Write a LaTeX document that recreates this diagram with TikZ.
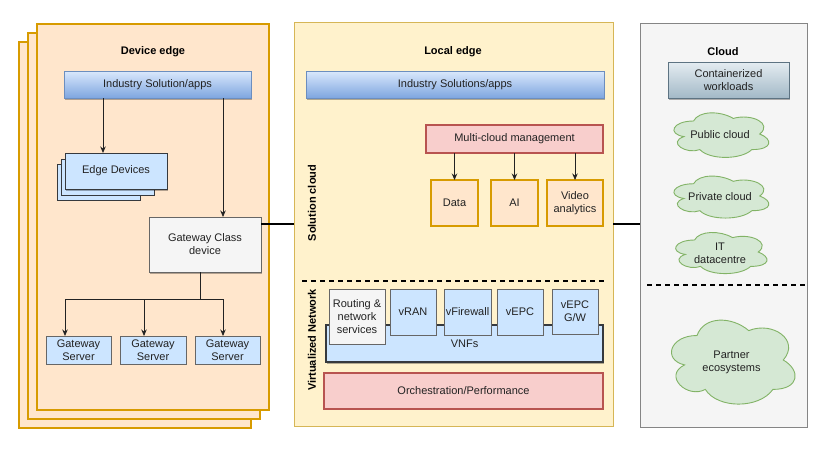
\documentclass[tikz,border=0pt]{standalone}
\usepackage{fontspec}
\setmainfont{Liberation Sans}
\usetikzlibrary{shadows,arrows.meta}

\definecolor{orF}{HTML}{FFE6CC}
\definecolor{orD}{HTML}{D79B00}
\definecolor{yeF}{HTML}{FFF2CC}
\definecolor{yeD}{HTML}{D6B656}
\definecolor{grF}{HTML}{F5F5F5}
\definecolor{grD}{HTML}{666666}
\definecolor{blT}{HTML}{DAE8FC}
\definecolor{blB}{HTML}{7EA6E0}
\definecolor{blD}{HTML}{6C8EBF}
\definecolor{lbF}{HTML}{CCE5FF}
\definecolor{lbD}{HTML}{36393D}
\definecolor{rdF}{HTML}{F8CECC}
\definecolor{rdD}{HTML}{B85450}
\definecolor{gnF}{HTML}{D5E8D4}
\definecolor{gnD}{HTML}{82B366}
\definecolor{ctT}{HTML}{E4ECF1}
\definecolor{ctB}{HTML}{A3B9C7}
\definecolor{ctD}{HTML}{5D7382}
\definecolor{txt}{HTML}{222222}

\tikzset{
  sz/.style 2 args={minimum width=#1pt, minimum height=#2pt},
  box/.style={draw, line width=0.8pt, inner sep=1pt, outer sep=0pt, align=center, text=txt},
  panel/.style={draw, line width=1.4pt, inner sep=0pt, outer sep=0pt},
  dshadow/.style={drop shadow={shadow xshift=1.2pt, shadow yshift=-1.6pt, fill=black, opacity=0.3}},
  bar/.style={box, top color=blT, bottom color=blB, draw=blD, dshadow},
  lbox/.style={box, fill=lbF, draw=lbD},
  rbox/.style={box, fill=rdF, draw=rdD, line width=1.2pt},
  obox/.style={box, fill=orF, draw=orD, line width=1.4pt},
  gbox/.style={box, fill=grF, draw=grD},
  title/.style={font=\fontsize{11}{13}\selectfont\bfseries, text=black, inner sep=0pt},
  arr/.style={-{Stealth[length=6.5pt,width=5.5pt]}, line width=0.8pt, draw=txt},
  plain/.style={line width=0.8pt, draw=txt},
  conn/.style={line width=1.2pt, draw=black},
  sepline/.style={line width=1.8pt, dash pattern=on 5pt off 4pt, draw=black},
  cloudline/.style={draw=gnD, fill=gnF, line width=0.9pt},
  cloudtxt/.style={inner sep=0pt, align=center, text=txt},
}

% draw.io style cloud outline: #1 centre x, #2 centre y, #3 width, #4 height
\newcommand\dioCloud[4]{%
  \begin{scope}[shift={(#1-#3/2,#2-#4/2)}, x=#3pt, y=-#4pt]
    \path[cloudline] (0.25,0.25)
      .. controls (0.05,0.25) and (0,0.5) .. (0.16,0.55)
      .. controls (0,0.66) and (0.18,0.9) .. (0.31,0.8)
      .. controls (0.4,1) and (0.7,1) .. (0.8,0.8)
      .. controls (1,0.8) and (1,0.6) .. (0.875,0.5)
      .. controls (1,0.3) and (0.8,0.1) .. (0.625,0.2)
      .. controls (0.5,0.05) and (0.3,0.05) .. (0.25,0.25) -- cycle;
  \end{scope}}

\begin{document}
\begin{tikzpicture}[x=1pt, y=-1pt, font=\fontsize{11}{13}\selectfont]
\useasboundingbox (0,0) rectangle (826,448);
\fill[white] (0,0) rectangle (826,448);

% ---------- Device edge ----------
\node[panel, draw=orD, fill=orF, sz={232}{386}] (dev3) at (135,235) {};
\node[panel, draw=orD, fill=orF, sz={232}{386}] (dev2) at (144,226) {};
\node[panel, draw=orD, fill=orF, sz={232}{386}] (dev1) at (153,217) {};
\node[title] (devt) at (153,52) {Device edge};
\node[bar, sz={187}{27}] (indl) at (157.5,84.5) {Industry Solution/apps};

\node[lbox, line width=1pt, sz={83}{36}] (ed3) at (98.5,182) {};
\node[lbox, line width=1pt, sz={93}{36}] (ed2) at (107.5,177) {};
\node[lbox, line width=1pt, sz={102}{36}, dshadow] (ed1) at (116,171) {Edge Devices};

\node[gbox, sz={112}{55}, dshadow] (gw) at (205,244.5) {Gateway Class\\device};

\node[lbox, draw=grD, sz={65}{28}] (gs1) at (78.5,350) {Gateway\\Server};
\node[lbox, draw=grD, sz={66}{28}] (gs2) at (153,350) {Gateway\\Server};
\node[lbox, draw=grD, sz={65}{28}] (gs3) at (227.5,350) {Gateway\\Server};

\coordinate (xa) at (103,0);
\coordinate (xb) at (223,0);
\draw[arr] (indl.south -| xa) -- (ed1.north -| xa);
\draw[arr] (indl.south -| xb) -- (gw.north -| xb);

\coordinate (br) at (200,299);
\coordinate (b1) at (65,299);
\coordinate (b2) at (144,299);
\coordinate (b3) at (223,299);
\draw[plain] (gw.south -| br) -- (br);
\draw[plain] (b1) -- (b3);
\draw[arr] (b1) -- (gs1.north -| b1);
\draw[arr] (b2) -- (gs2.north -| b2);
\draw[arr] (b3) -- (gs3.north -| b3);

% ---------- Local edge ----------
\node[panel, draw=yeD, fill=yeF, line width=1pt, sz={319}{404}] (mid) at (453.5,224) {};
\node[title] (loct) at (453,52) {Local edge};
\node[bar, sz={298}{27}] (indm) at (455,84.5) {Industry Solutions/apps};

\node[rbox, sz={177}{28}] (mcm) at (514.5,139) {Multi-cloud management};
\node[obox, sz={47}{46}] (data) at (454.5,203) {Data};
\node[obox, sz={47}{46}] (ai) at (514.5,203) {AI};
\node[obox, sz={56}{46}] (video) at (575,203) {Video\\analytics};
\draw[arr] (mcm.south -| data) -- (data.north);
\draw[arr] (mcm.south -| ai) -- (ai.north);
\draw[arr] (mcm.south -| video) -- (video.north);

\node[title, rotate=90] (solc) at (312,203) {Solution cloud};
\coordinate (d1) at (302,281);
\coordinate (d2) at (607,281);
\draw[sepline] (d1) -- (d2);
\node[title, rotate=90] (virt) at (312,340) {Virtualized Network};

\node[lbox, line width=1.1pt, sz={277}{37}, dshadow] (vnf) at (464.5,343.5) {VNFs};
\node[gbox, sz={56}{55}] (rout) at (357,316.5) {Routing \&\\network\\services};
\node[lbox, draw=grD, sz={46}{46}] (vran) at (413,312) {vRAN};
\node[lbox, draw=grD, sz={47}{46}] (vfw) at (467.5,312) {vFirewall};
\node[lbox, draw=grD, sz={46}{46}] (vepc) at (520,312) {vEPC};
\node[lbox, draw=grD, sz={46}{45}] (vgw) at (575,311.5) {vEPC\\G/W};

\node[rbox, sz={279}{36}] (orch) at (463.5,391) {Orchestration/Performance};

% ---------- Cloud ----------
\node[panel, draw=grD!80, fill=grF, line width=1pt, sz={167}{404}] (cld) at (723.5,225) {};
\node[title] (cldt) at (723,52) {Cloud};
\node[box, top color=ctT, bottom color=ctB, draw=ctD, dshadow, sz={121}{36}] (cont) at (728.5,80) {Containerized\\workloads};

\dioCloud{720}{134}{106}{52}
\node[cloudtxt] (pub) at (720,135) {Public cloud};
\dioCloud{720}{196}{106}{49}
\node[cloudtxt] (priv) at (720,197) {Private cloud};
\dioCloud{720}{252}{102}{48}
\node[cloudtxt] (itdc) at (720,253) {IT\\datacentre};
\coordinate (d3) at (647,285);
\coordinate (d4) at (807,285);
\draw[sepline] (d3) -- (d4);
\dioCloud{731.5}{360}{138}{98}
\node[cloudtxt] (part) at (731.5,362) {Partner\\ecosystems};

% ---------- connectors between panels ----------
\coordinate (ly) at (0,224);
\draw[conn] (gw.east |- ly) -- (mid.west |- ly);
\draw[conn] (mid.east |- ly) -- (cld.west |- ly);
\end{tikzpicture}
\end{document}
